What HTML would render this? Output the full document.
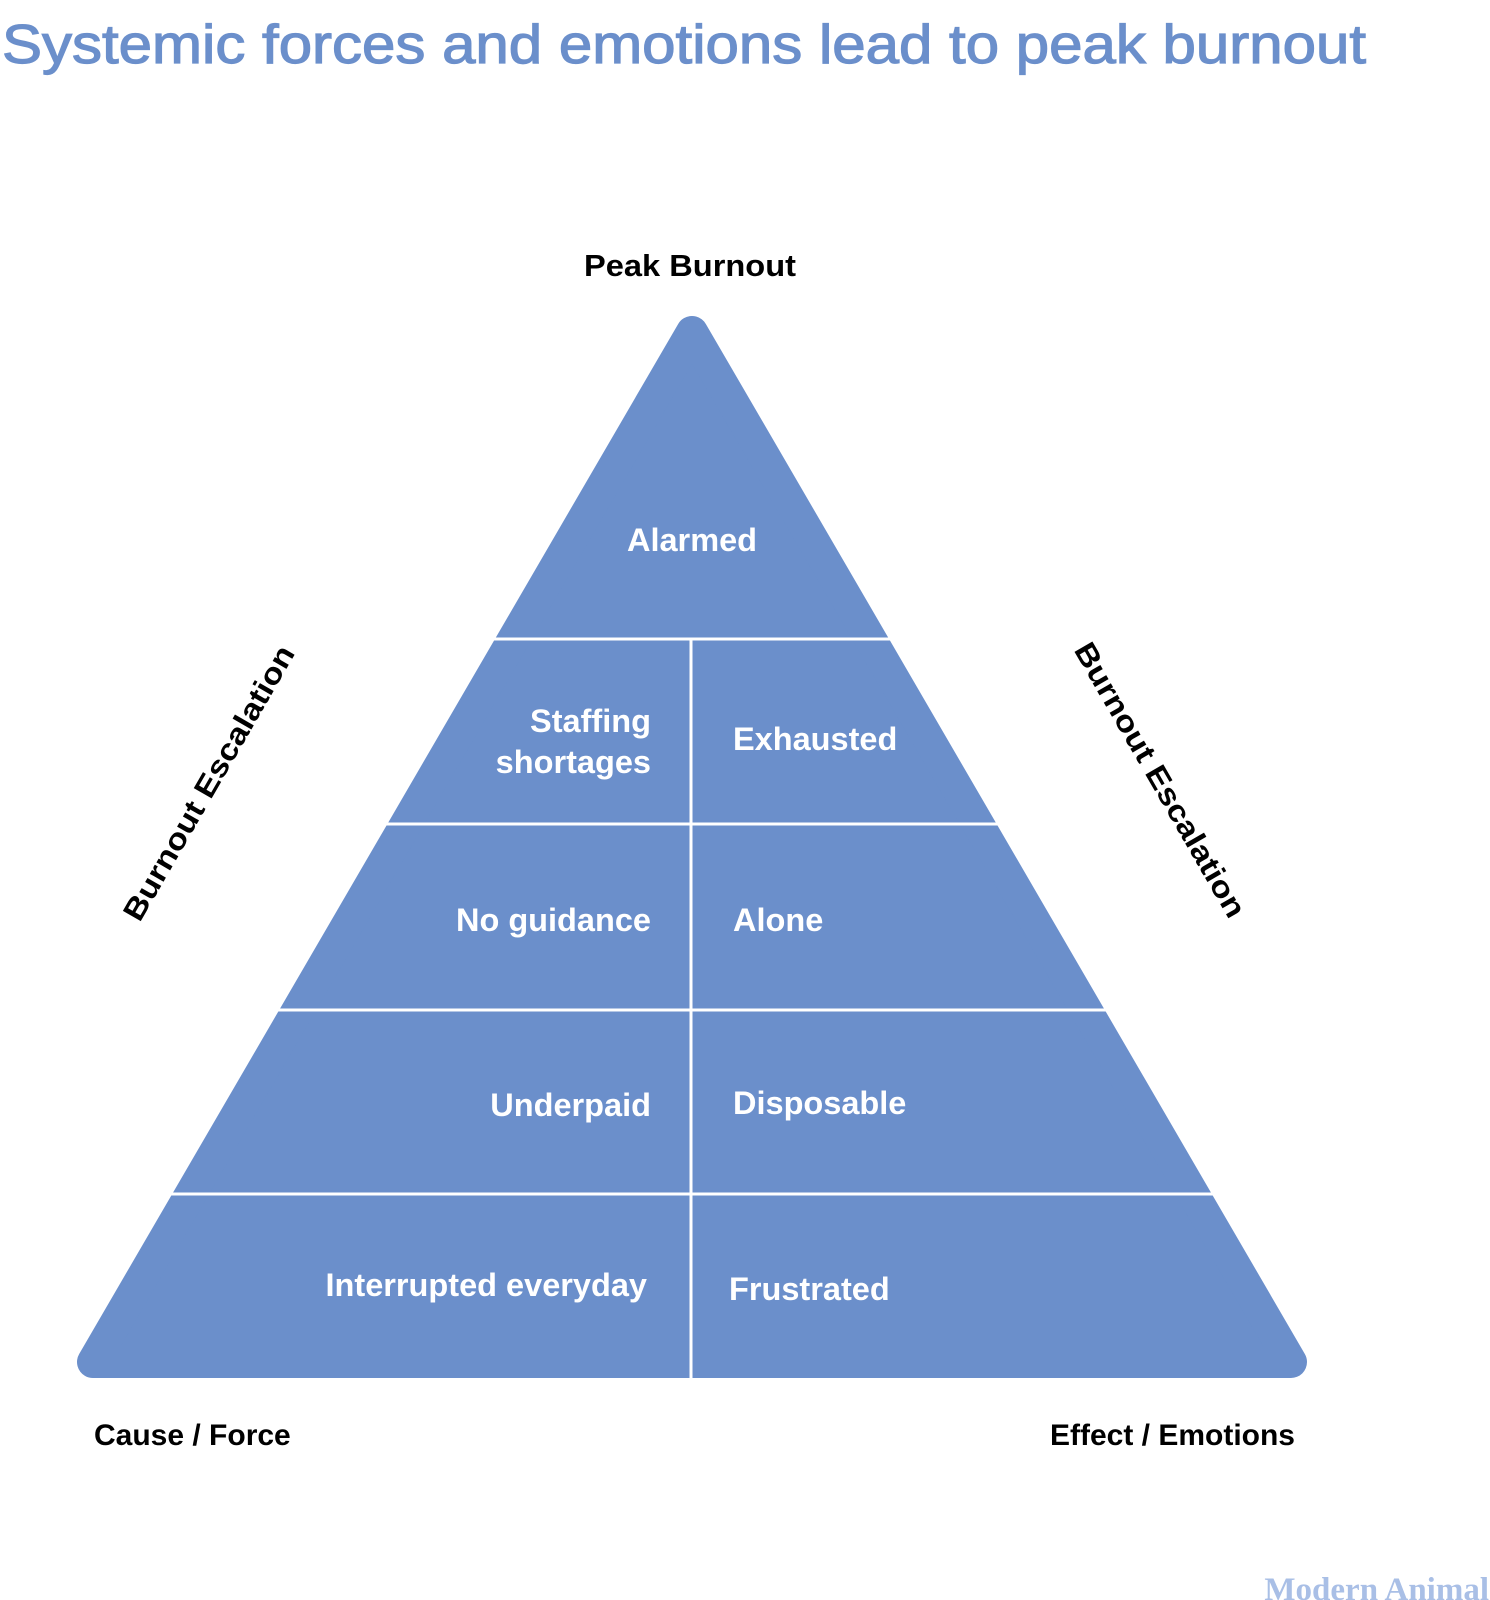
<!DOCTYPE html>
<html><head><meta charset="utf-8"><style>html,body{margin:0;padding:0;background:#fff}svg{display:block}</style></head>
<body>
<svg width="1490" height="1600" viewBox="0 0 1490 1600" xmlns="http://www.w3.org/2000/svg" font-family="Liberation Sans, sans-serif">
<text x="2" y="63" font-size="55" fill="#6b8fcb" stroke="#6b8fcb" stroke-width="1.2" textLength="1364" lengthAdjust="spacingAndGlyphs">Systemic forces and emotions lead to peak burnout</text>
<text x="690" y="276" font-size="31" font-weight="bold" fill="#000" text-anchor="middle" textLength="212" lengthAdjust="spacingAndGlyphs">Peak Burnout</text>
<polygon points="692,332 93,1362 1291,1362" fill="#6b8fcb" stroke="#6b8fcb" stroke-width="32" stroke-linejoin="round"/>
<g stroke="#fff" stroke-width="3">
<line x1="0" y1="639" x2="1490" y2="639"/>
<line x1="0" y1="824" x2="1490" y2="824"/>
<line x1="0" y1="1010" x2="1490" y2="1010"/>
<line x1="0" y1="1194" x2="1490" y2="1194"/>
<line x1="691" y1="639" x2="691" y2="1380"/>
</g>
<g fill="#fff" font-size="32.5" font-weight="bold">
<text x="692" y="551" text-anchor="middle">Alarmed</text>
<text x="651" y="732" text-anchor="end">Staffing</text>
<text x="651" y="773" text-anchor="end">shortages</text>
<text x="733" y="750">Exhausted</text>
<text x="651" y="931" text-anchor="end">No guidance</text>
<text x="733" y="931">Alone</text>
<text x="651" y="1116" text-anchor="end">Underpaid</text>
<text x="733" y="1114">Disposable</text>
<text x="647" y="1296" text-anchor="end">Interrupted everyday</text>
<text x="729" y="1300">Frustrated</text>
</g>
<g fill="#000" font-size="30" font-weight="bold">
<text x="94" y="1445">Cause / Force</text>
<text x="1295" y="1445" text-anchor="end">Effect / Emotions</text>
<text transform="translate(209,783) rotate(-60)" text-anchor="middle" y="10" textLength="312" lengthAdjust="spacingAndGlyphs">Burnout Escalation</text>
<text transform="translate(1160,780) rotate(60)" text-anchor="middle" y="10" textLength="312" lengthAdjust="spacingAndGlyphs">Burnout Escalation</text>
</g>
<text x="1489" y="1600" font-family="Liberation Serif, serif" font-weight="bold" font-size="33" fill="#a9bfe6" text-anchor="end">Modern Animal</text>
</svg>
</body></html>
